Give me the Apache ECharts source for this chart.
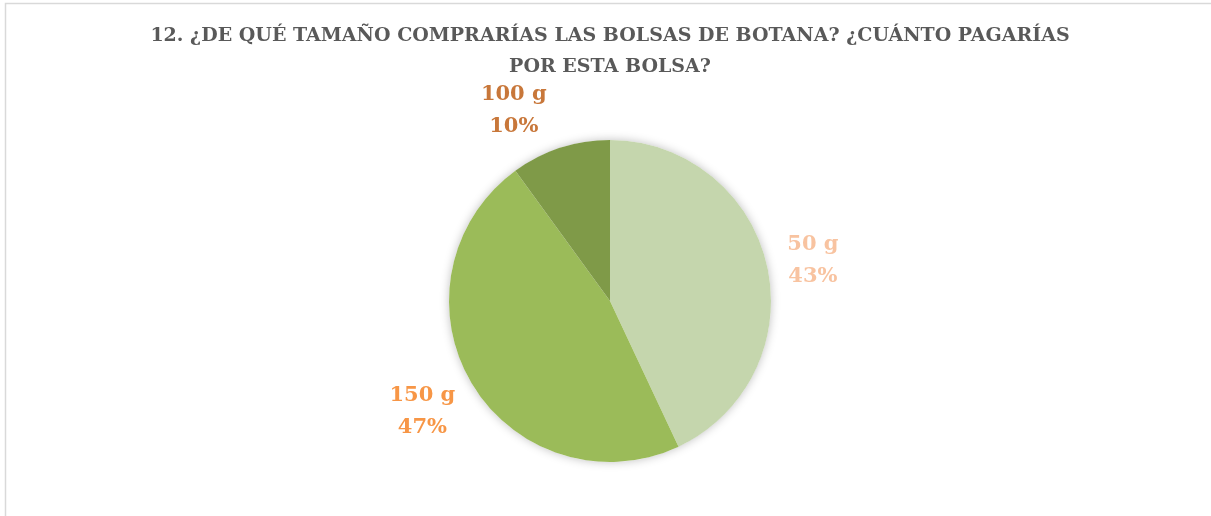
<!DOCTYPE html>
<html>
<head>
<meta charset="utf-8">
<script src="https://cdn.jsdelivr.net/npm/echarts@6/dist/echarts.min.js"></script>
<style>html,body{margin:0;padding:0;background:#fff;}#c{width:1211px;height:516px;}</style>
</head>
<body>
<div id="c"></div>
<script>
const titleLines = ['12. ¿DE QUÉ TAMAÑO COMPRARÍAS LAS BOLSAS DE BOTANA? ¿CUÁNTO PAGARÍAS', 'POR ESTA BOLSA?'];
const categories = ['50 g', '150 g', '100 g'];
const values = [43, 47, 10];
const sliceColors = ['#C5D6AD', '#9BBB59', '#7F9A48'];
const labelColors = ['#F8C3A0', '#F79646', '#C8773A'];

const chart = echarts.init(document.getElementById('c'), null, {renderer: 'canvas'});
const FONT = '"DejaVu Serif", "Liberation Serif", serif';
// label nudges (Excel best-fit placement), style only
const labelNudge = [[-3, 6], [-6, 3], [-31, 10]];
const total = values.reduce((a, b) => a + b, 0);
chart.setOption({
  backgroundColor: '#ffffff',
  animation: false,
  graphic: [{
    type: 'rect',
    shape: {x: 5.5, y: 3.5, width: 1300, height: 600},
    style: {fill: 'none', stroke: '#d9d9d9', lineWidth: 1.5},
    silent: true, z: -1
  }, {
    type: 'text',
    x: 610, y: 21,
    style: {
      text: titleLines.join('\n'),
      align: 'center', verticalAlign: 'top',
      font: 'bold 19px ' + FONT,
      lineHeight: 31,
      fill: '#595959'
    },
    silent: true
  }],
  series: [{
    type: 'pie',
    center: [610, 301],
    radius: [0, 161],
    silent: true,
    z: 1,
    label: {show: false},
    labelLine: {show: false},
    data: [{value: total, itemStyle: {color: '#ffffff', shadowBlur: 10, shadowColor: 'rgba(0,0,0,0.25)'}}],
    emphasis: {disabled: true}
  }, {
    type: 'pie',
    center: [610, 301],
    radius: [0, 161],
    startAngle: 90,
    clockwise: true,
    z: 2,
    data: categories.map((c, i) => ({
      name: c, value: values[i],
      itemStyle: {color: sliceColors[i]},
      label: {color: labelColors[i]}
    })),
    label: {
      show: true,
      position: 'outside',
      formatter: p => p.name + '\n' + Math.round(p.percent) + '%',
      fontFamily: FONT, fontWeight: 'bold', fontSize: 21, lineHeight: 32,
      align: 'center'
    },
    labelLine: {show: true, length: 20, length2: 0, lineStyle: {width: 0, opacity: 0}},
    labelLayout: function (params) {
      const pts = params.labelLinePoints;
      if (!pts) return {};
      const dx = pts[1][0] - pts[0][0], dy = pts[1][1] - pts[0][1];
      const len = Math.sqrt(dx * dx + dy * dy) || 1;
      const dist = 50;
      const n = labelNudge[params.dataIndex] || [0, 0];
      return {
        x: pts[0][0] + dx / len * dist + n[0],
        y: pts[0][1] + dy / len * dist + n[1],
        align: 'center',
        verticalAlign: 'middle'
      };
    },
    emphasis: {disabled: true}
  }]
});
</script>
</body>
</html>
